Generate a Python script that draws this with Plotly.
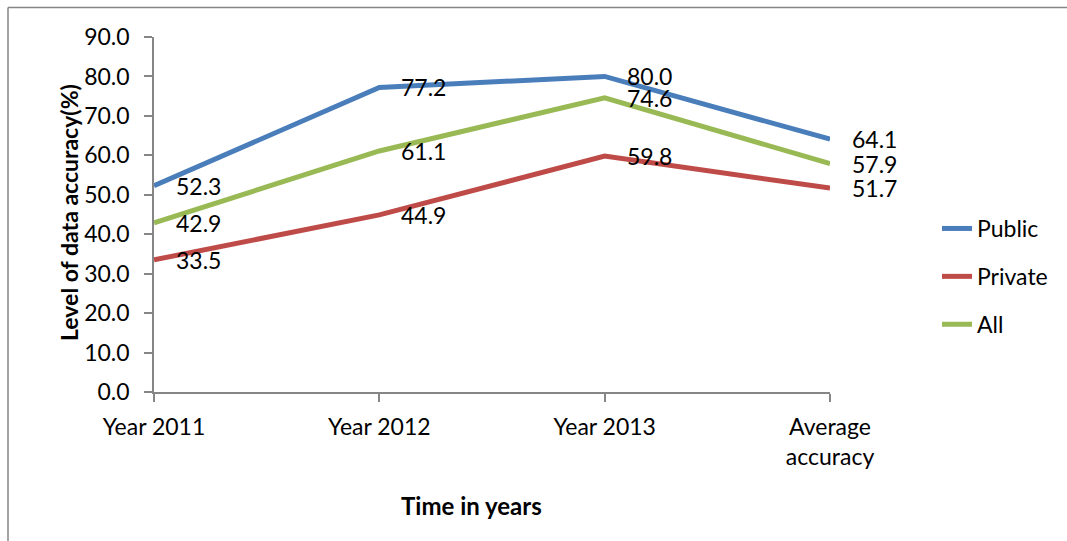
import plotly.graph_objects as go

categories = ["Year 2011", "Year 2012", "Year 2013", "Average accuracy"]
tick_labels = ["Year 2011", "Year 2012", "Year 2013", "Average<br>accuracy"]
public = [52.3, 77.2, 80.0, 64.1]
private = [33.5, 44.9, 59.8, 51.7]
all_ = [42.9, 61.1, 74.6, 57.9]
y_ticks = [0, 10, 20, 30, 40, 50, 60, 70, 80, 90]

series = [("Public", public, "#4A7EBB"), ("Private", private, "#BE4B48"), ("All", all_, "#98B954")]

W, H = 1067, 541
L, R, T, B = 154, 830, 37, 392
FONT = "Lato"
AX = "#868686"

fig = go.Figure()
xs = list(range(len(categories)))
for i, (name, vals, col) in enumerate(series):
    fig.add_trace(go.Scatter(
        x=xs, y=vals, mode="lines", name=name,
        line=dict(color=col, width=5),
        legendgroup=name,
    ))

annotations = []
for name, vals, col in series:
    for xi, v in zip(xs, vals):
        annotations.append(dict(
            x=xi, y=v, xref="x", yref="y", text=f"{v:.1f}", showarrow=False,
            xanchor="left", yanchor="middle", xshift=20,
            font=dict(family=FONT, size=23, color="#000000"),
        ))

pw = R - L
ph = B - T
def px(x):
    return (x - L) / pw
def py(y):
    return (B - y) / ph

annotations.append(dict(
    x=px(69), y=py(213), xref="paper", yref="paper", text="<b>Level of data accuracy(%)</b>",
    textangle=-90, showarrow=False, xanchor="center", yanchor="middle",
    font=dict(family=FONT, size=23, color="#000000"),
))
annotations.append(dict(
    x=px(471), y=py(505), xref="paper", yref="paper", text="<b>Time in years</b>",
    showarrow=False, xanchor="center", yanchor="middle",
    font=dict(family=FONT, size=24, color="#000000"),
))

shapes = [
    dict(type="line", xref="paper", yref="paper", x0=px(8), x1=px(1067), y0=py(7.5), y1=py(7.5),
         line=dict(color=AX, width=1.5)),
    dict(type="line", xref="paper", yref="paper", x0=px(8), x1=px(8), y0=py(7.5), y1=py(541),
         line=dict(color=AX, width=1.5)),
]

fig.update_layout(
    width=W, height=H,
    margin=dict(l=L, r=W - R, t=T, b=H - B),
    paper_bgcolor="white", plot_bgcolor="white",
    font=dict(family=FONT, size=23, color="#000000"),
    showlegend=True,
    legend=dict(x=px(937), y=py(207), xanchor="left", yanchor="top",
                font=dict(family=FONT, size=23, color="#000000"),
                tracegroupgap=15, bgcolor="rgba(0,0,0,0)"),
    annotations=annotations,
    shapes=shapes,
    xaxis=dict(
        range=[0, 3], tickmode="array", tickvals=xs, ticktext=tick_labels,
        showgrid=False, zeroline=False, showline=True, linecolor=AX, linewidth=1.5,
        ticks="outside", ticklen=8, tickcolor=AX, tickwidth=1.5,
        tickfont=dict(family=FONT, size=23, color="#000000"),
        ticklabelstandoff=6,
    ),
    yaxis=dict(
        range=[0, 90], tickmode="array", tickvals=y_ticks,
        ticktext=[f"{t:.1f}" for t in y_ticks],
        showgrid=False, zeroline=False, showline=True, linecolor=AX, linewidth=1.5,
        ticks="outside", ticklen=8, tickcolor=AX, tickwidth=1.5,
        tickfont=dict(family=FONT, size=23, color="#000000"),
        ticklabelstandoff=10,
    ),
)

fig.write_html("out.html")
